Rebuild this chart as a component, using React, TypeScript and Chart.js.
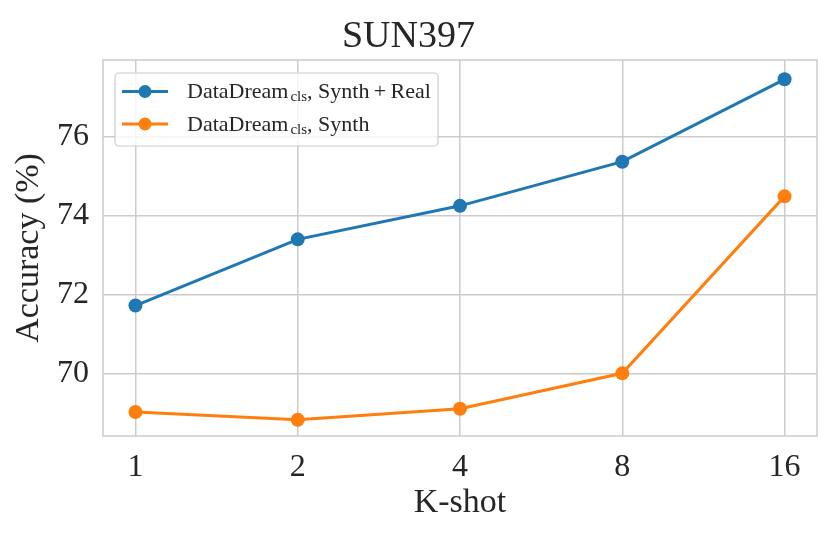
import { useEffect, useRef } from "react";
import { Chart, registerables } from "chart.js";

Chart.register(...registerables);

const kShots = ["1", "2", "4", "8", "16"];
const synthReal = [71.72, 73.4, 74.25, 75.37, 77.46];
const synthOnly = [69.02, 68.82, 69.1, 70.0, 74.49];
const yTickValues = [70, 72, 74, 76];
const legendMain = ["DataDream", "DataDream"];
const legendSub = ["cls", "cls"];
const legendRest = [", Synth\u2009+\u2009Real", ", Synth"];

const seriesColors = ["#1f77b4", "#ff7f0e"];
const FONT = '"Liberation Serif", "DejaVu Serif", serif';
const TEXT = "#262626";
const GRID = "#cccccc";

const framePlugin = {
  id: "frame",
  beforeDatasetsDraw(chart: any) {
    const { ctx, chartArea: a } = chart;
    ctx.save();
    ctx.strokeStyle = GRID;
    ctx.lineWidth = 1.5;
    ctx.strokeRect(a.left, a.top, a.right - a.left, a.bottom - a.top);
    ctx.restore();
  },
};

const legendPlugin = {
  id: "innerLegend",
  afterDatasetsDraw(chart: any) {
    const { ctx, chartArea: a } = chart;
    const x0 = a.left + 12;
    const y0 = a.top + 13;
    const w = 323;
    const h = 73;
    ctx.save();
    ctx.beginPath();
    ctx.roundRect(x0, y0, w, h, 4);
    ctx.fillStyle = "rgba(255,255,255,0.8)";
    ctx.fill();
    ctx.strokeStyle = GRID;
    ctx.lineWidth = 1.2;
    ctx.stroke();
    const rows = chart.data.datasets.length;
    for (let i = 0; i < rows; i++) {
      const cy = y0 + 18.5 + i * 32.5;
      const color = seriesColors[i];
      ctx.strokeStyle = color;
      ctx.lineWidth = 3;
      ctx.beginPath();
      ctx.moveTo(x0 + 7, cy);
      ctx.lineTo(x0 + 53, cy);
      ctx.stroke();
      ctx.fillStyle = color;
      ctx.beginPath();
      ctx.arc(x0 + 30, cy, 6.5, 0, Math.PI * 2);
      ctx.fill();
      ctx.fillStyle = TEXT;
      ctx.textBaseline = "alphabetic";
      ctx.textAlign = "left";
      let tx = x0 + 72;
      const base = cy + 6.5;
      ctx.font = `22px ${FONT}`;
      ctx.fillText(legendMain[i], tx, base);
      tx += ctx.measureText(legendMain[i]).width + 2;
      ctx.font = `15px ${FONT}`;
      ctx.fillText(legendSub[i], tx, base + 3);
      tx += ctx.measureText(legendSub[i]).width;
      ctx.font = `22px ${FONT}`;
      ctx.fillText(legendRest[i], tx, base);
    }
    ctx.restore();
  },
};

export default function App() {
  const ref = useRef<HTMLCanvasElement>(null);
  useEffect(() => {
    if (!ref.current) return;
    const chart = new Chart(ref.current, {
      type: "line",
      data: {
        datasets: [
          {
            label: legendMain[0] + legendSub[0] + legendRest[0],
            data: synthReal.map((v, i) => ({ x: i, y: v })),
            borderColor: seriesColors[0],
            backgroundColor: seriesColors[0],
            borderWidth: 3,
            pointRadius: 7,
            pointHoverRadius: 7,
            pointBorderWidth: 0,
          },
          {
            label: legendMain[1] + legendSub[1] + legendRest[1],
            data: synthOnly.map((v, i) => ({ x: i, y: v })),
            borderColor: seriesColors[1],
            backgroundColor: seriesColors[1],
            borderWidth: 3,
            pointRadius: 7,
            pointHoverRadius: 7,
            pointBorderWidth: 0,
          },
        ],
      },
      options: {
        animation: false,
        responsive: false,
        devicePixelRatio: 1,
        layout: { padding: { left: 0, right: 14, top: 0, bottom: 0 } },
        plugins: {
          legend: { display: false },
          tooltip: { enabled: false },
          title: {
            display: true,
            text: "SUN397",
            color: TEXT,
            font: { family: FONT, size: 38, weight: "normal" },
            padding: { top: 14, bottom: 0.4 },
          },
        },
        scales: {
          x: {
            type: "linear",
            min: -0.2,
            max: 4.2,
            afterBuildTicks: (s: any) => {
              s.ticks = kShots.map((_, i) => ({ value: i }));
            },
            afterFit: (s: any) => {
              s.height = 102;
            },
            ticks: {
              color: TEXT,
              font: { family: FONT, size: 32 },
              padding: 12,
              callback: (v: any) => kShots[v as number],
            },
            grid: { color: GRID, lineWidth: 1.5, drawTicks: false },
            border: { display: false },
            title: {
              display: true,
              text: "K-shot",
              color: TEXT,
              font: { family: FONT, size: 34 },
              padding: { top: 0, bottom: 14.6 },
            },
          },
          y: {
            type: "linear",
            min: 68.41,
            max: 77.95,
            afterBuildTicks: (s: any) => {
              s.ticks = yTickValues.map((v) => ({ value: v }));
            },
            afterFit: (s: any) => {
              s.width = 103;
            },
            ticks: {
              color: TEXT,
              font: { family: FONT, size: 32 },
              padding: 14,
            },
            grid: { color: GRID, lineWidth: 1.5, drawTicks: false },
            border: { display: false },
            title: {
              display: true,
              text: "Accuracy (%)",
              color: TEXT,
              font: { family: FONT, size: 34 },
              padding: { top: 8.6, bottom: 0 },
            },
          },
        },
      },
      plugins: [framePlugin, legendPlugin],
    } as any);
    return () => chart.destroy();
  }, []);
  return (
    <div style={{ position: "absolute", left: 0, top: 0, width: 831, height: 538, background: "#fff" }}>
      <canvas ref={ref} width={831} height={538} style={{ width: 831, height: 538 }} />
    </div>
  );
}
